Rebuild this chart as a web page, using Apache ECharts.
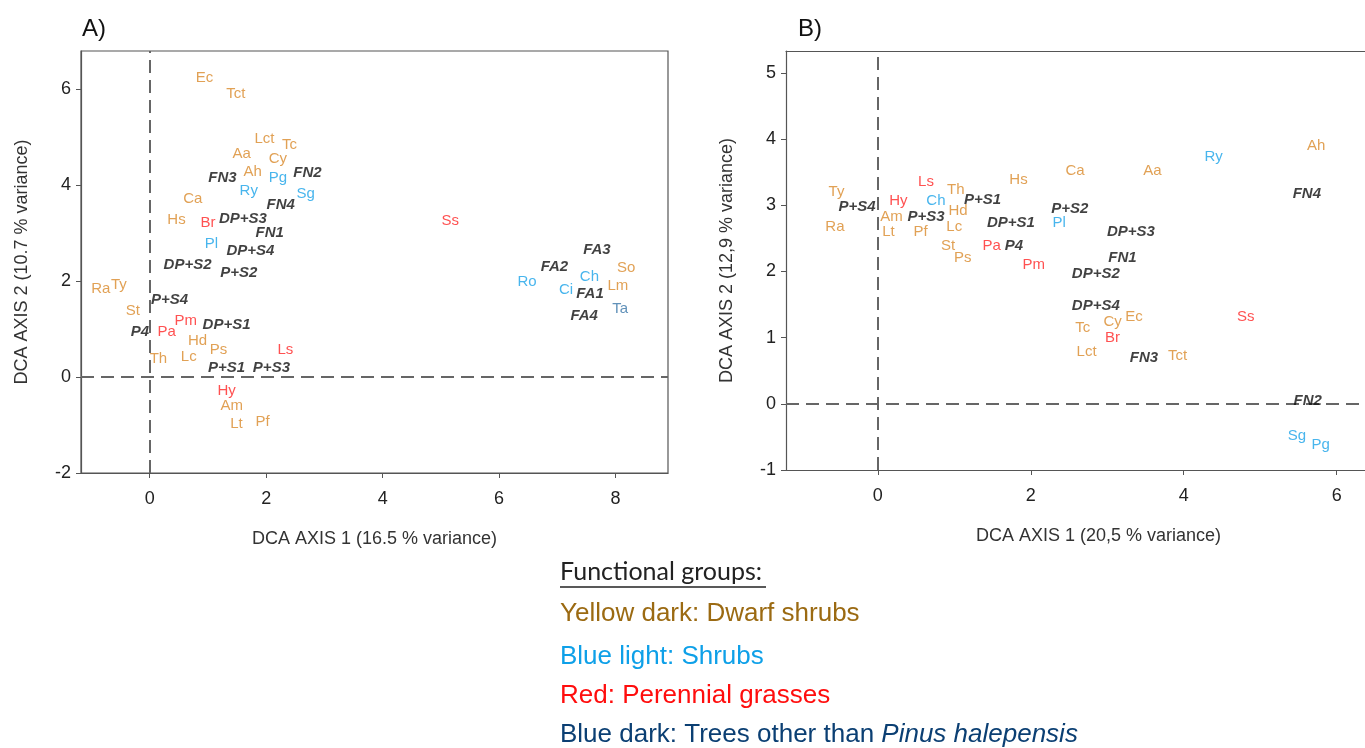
<!DOCTYPE html>
<html>
<head>
<meta charset="utf-8">
<script src="https://cdn.jsdelivr.net/npm/echarts@6/dist/echarts.min.js"></script>
<style>
  html, body { margin: 0; padding: 0; background: #fff; }
  #chart { width: 1365px; height: 748px; }
</style>
</head>
<body>
<div id="chart"></div>
<script>
// ---- panel A : [axis1, axis2, label]
const aDwarf = [
  [0.94, 6.25, 'Ec'], [1.48, 5.9, 'Tct'], [1.97, 4.96, 'Lct'], [2.4, 4.85, 'Tc'],
  [1.58, 4.65, 'Aa'], [2.2, 4.56, 'Cy'], [1.77, 4.27, 'Ah'], [0.74, 3.71, 'Ca'],
  [0.46, 3.27, 'Hs'], [-0.84, 1.85, 'Ra'], [-0.53, 1.92, 'Ty'], [-0.29, 1.38, 'St'],
  [0.82, 0.75, 'Hd'], [1.18, 0.56, 'Ps'], [0.15, 0.37, 'Th'], [0.67, 0.42, 'Lc'],
  [1.41, -0.6, 'Am'], [1.49, -0.98, 'Lt'], [1.94, -0.94, 'Pf'], [8.18, 2.27, 'So'],
  [8.04, 1.9, 'Lm']
];
const aShrub = [
  [2.2, 4.15, 'Pg'], [1.7, 3.88, 'Ry'], [2.68, 3.83, 'Sg'], [1.06, 2.77, 'Pl'],
  [6.48, 1.98, 'Ro'], [7.55, 2.1, 'Ch'], [7.15, 1.81, 'Ci']
];
const aGrass = [
  [1.0, 3.21, 'Br'], [5.16, 3.25, 'Ss'], [0.62, 1.17, 'Pm'], [0.29, 0.94, 'Pa'],
  [2.33, 0.56, 'Ls'], [1.32, -0.29, 'Hy']
];
const aTree = [[8.08, 1.42, 'Ta']];
const aSites = [
  [2.71, 4.25, 'FN2'], [1.25, 4.15, 'FN3'], [2.25, 3.6, 'FN4'], [1.6, 3.31, 'DP+S3'],
  [2.06, 3.0, 'FN1'], [1.73, 2.63, 'DP+S4'], [0.65, 2.35, 'DP+S2'], [1.53, 2.17, 'P+S2'],
  [0.34, 1.62, 'P+S4'], [1.32, 1.08, 'DP+S1'], [-0.17, 0.94, 'P4'], [1.32, 0.19, 'P+S1'],
  [2.09, 0.19, 'P+S3'], [7.68, 2.65, 'FA3'], [6.95, 2.29, 'FA2'], [7.56, 1.73, 'FA1'],
  [7.46, 1.27, 'FA4']
];

// ---- panel B
const bDwarf = [
  [-0.54, 3.2, 'Ty'], [-0.56, 2.67, 'Ra'], [1.02, 3.23, 'Th'], [0.18, 2.83, 'Am'],
  [1.05, 2.91, 'Hd'], [0.14, 2.6, 'Lt'], [0.56, 2.6, 'Pf'], [1.0, 2.68, 'Lc'],
  [1.84, 3.38, 'Hs'], [0.92, 2.39, 'St'], [1.11, 2.2, 'Ps'], [2.58, 3.52, 'Ca'],
  [3.59, 3.52, 'Aa'], [5.73, 3.89, 'Ah'], [3.35, 1.32, 'Ec'], [3.07, 1.24, 'Cy'],
  [2.68, 1.14, 'Tc'], [2.73, 0.79, 'Lct'], [3.92, 0.73, 'Tct']
];
const bShrub = [
  [0.76, 3.06, 'Ch'], [2.37, 2.74, 'Pl'], [4.39, 3.73, 'Ry'], [5.48, -0.48, 'Sg'],
  [5.79, -0.62, 'Pg']
];
const bGrass = [
  [0.63, 3.36, 'Ls'], [0.27, 3.06, 'Hy'], [1.49, 2.39, 'Pa'], [2.04, 2.1, 'Pm'],
  [3.07, 1.0, 'Br'], [4.81, 1.32, 'Ss']
];
const bSites = [
  [-0.27, 2.97, 'P+S4'], [1.37, 3.08, 'P+S1'], [0.63, 2.83, 'P+S3'], [1.74, 2.74, 'DP+S1'],
  [1.78, 2.39, 'P4'], [2.51, 2.95, 'P+S2'], [3.31, 2.6, 'DP+S3'], [3.2, 2.2, 'FN1'],
  [2.85, 1.97, 'DP+S2'], [2.85, 1.48, 'DP+S4'], [3.48, 0.7, 'FN3'], [5.62, 0.04, 'FN2'],
  [5.61, 3.17, 'FN4']
];

// tick labels
const aXTicks = [0, 2, 4, 6, 8];
const aYTicks = [-2, 0, 2, 4, 6];
const bXTicks = [0, 2, 4, 6];
const bYTicks = [-1, 0, 1, 2, 3, 4, 5];

const FONT = '"Liberation Sans", Arial, sans-serif';
const ORANGE = '#d98a2b', LBLUE = '#1aa3e8', RED = '#ff2626', DBLUE = '#3a76a8', BLACK = '#111';

function labels(name, data, color, idx, bold) {
  return {
    name: name,
    type: 'scatter',
    xAxisIndex: idx,
    yAxisIndex: idx,
    symbolSize: 1,
    silent: true,
    itemStyle: { color: 'transparent' },
    data: data.map(d => ({ value: [d[0], d[1]], name: d[2] })),
    label: {
      show: true,
      position: 'inside',
      formatter: '{b}',
      color: color,
      fontSize: 15,
      fontFamily: FONT,
      fontWeight: bold ? 'bold' : 'normal',
      fontStyle: bold ? 'italic' : 'normal'
    },
    z: 5
  };
}

function zeroLines() {
  return {
    silent: true,
    symbol: 'none',
    label: { show: false },
    lineStyle: { color: '#666', type: [13, 7], width: 2 },
    data: [{ xAxis: 0 }, { yAxis: 0 }]
  };
}

function xAx(idx, min, max, ticks, title, shift) {
  return {
    gridIndex: idx, type: 'value', min: min, max: max,
    name: title, nameLocation: 'middle', nameGap: 57,
    nameTextStyle: { fontSize: 18, color: '#333', fontFamily: FONT, padding: [0, 0, 0, shift || 0] },
    axisLine: { show: true, onZero: false, lineStyle: { color: '#555', width: 1.2 } },
    axisTick: { show: true, length: 5, customValues: ticks, lineStyle: { color: '#555' } },
    axisLabel: { customValues: ticks, fontSize: 18, color: '#222', fontFamily: FONT, margin: 17 },
    splitLine: { show: false }
  };
}

function yAx(idx, min, max, ticks, title) {
  return {
    gridIndex: idx, type: 'value', min: min, max: max,
    name: title, nameLocation: 'middle', nameGap: 50,
    nameTextStyle: { fontSize: 18, color: '#333', fontFamily: FONT },
    axisLine: { show: true, onZero: false, lineStyle: { color: '#555', width: 1.2 } },
    axisTick: { show: true, length: 5, customValues: ticks, lineStyle: { color: '#555' } },
    axisLabel: { customValues: ticks, fontSize: 18, color: '#222', fontFamily: FONT, margin: 10 },
    splitLine: { show: false }
  };
}

const chart = echarts.init(document.getElementById('chart'));

const aFirst = labels('aDwarf', aDwarf, ORANGE, 0, false);
aFirst.markLine = zeroLines();
const bFirst = labels('bDwarf', bDwarf, ORANGE, 1, false);
bFirst.markLine = zeroLines();

chart.setOption({
  backgroundColor: '#fff',
  animation: false,
  grid: [
    { left: 81, top: 51, width: 587, height: 422, show: true, borderColor: '#555', borderWidth: 1.2 },
    { left: 786, top: 51, right: 0, height: 419 }
  ],
  xAxis: [
    xAx(0, -1.18, 8.9, aXTicks, 'DCA AXIS 1 (16.5 % variance)'),
    xAx(1, -1.2, 6.37, bXTicks, 'DCA AXIS 1 (20,5 % variance)', 46),
    // top border of panel B (right side runs off the picture)
    {
      gridIndex: 1, type: 'value', position: 'top', min: -1.2, max: 6.37,
      axisLine: { show: true, onZero: false, lineStyle: { color: '#555', width: 1.2 } },
      axisTick: { show: false }, axisLabel: { show: false }, splitLine: { show: false }
    }
  ],
  yAxis: [
    yAx(0, -2, 6.8, aYTicks, 'DCA AXIS 2 (10.7 % variance)'),
    yAx(1, -1, 5.33, bYTicks, 'DCA AXIS 2 (12,9 % variance)')
  ],
  series: [
    aFirst,
    labels('aShrub', aShrub, LBLUE, 0, false),
    labels('aGrass', aGrass, RED, 0, false),
    labels('aTree', aTree, DBLUE, 0, false),
    labels('aSites', aSites, BLACK, 0, true),
    bFirst,
    labels('bShrub', bShrub, LBLUE, 1, false),
    labels('bGrass', bGrass, RED, 1, false),
    labels('bSites', bSites, BLACK, 1, true)
  ],
  graphic: [
    { type: 'text', left: 82, top: 17, style: { text: 'A)', fontSize: 24, fontFamily: FONT, fill: '#111' } },
    { type: 'text', left: 798, top: 17, style: { text: 'B)', fontSize: 24, fontFamily: FONT, fill: '#111' } },
    // legend block
    { type: 'text', left: 560, top: 559, style: { text: 'Functional groups:', fontSize: 25, fontFamily: 'Lato, sans-serif', fill: '#222' } },
    { type: 'line', shape: { x1: 560, y1: 587, x2: 766, y2: 587 }, style: { stroke: '#222', lineWidth: 1.5 } },
    { type: 'text', left: 560, top: 601, style: { text: 'Yellow dark: Dwarf shrubs', fontSize: 26, fontFamily: FONT, fill: '#9b6a12' } },
    { type: 'text', left: 560, top: 644, style: { text: 'Blue light: Shrubs', fontSize: 26, fontFamily: FONT, fill: '#0ea0e8' } },
    { type: 'text', left: 560, top: 683, style: { text: 'Red: Perennial grasses', fontSize: 26, fontFamily: FONT, fill: '#ff0d0d' } },
    {
      type: 'text', left: 560, top: 722,
      style: {
        text: '{n|Blue dark: Trees other than }{i|Pinus halepensis}',
        rich: {
          n: { fontSize: 26, fontFamily: FONT, fill: '#0b3f73', color: '#0b3f73' },
          i: { fontSize: 26, fontFamily: FONT, fontStyle: 'italic', fill: '#0b3f73', color: '#0b3f73' }
        }
      }
    }
  ]
});
</script>
</body>
</html>
